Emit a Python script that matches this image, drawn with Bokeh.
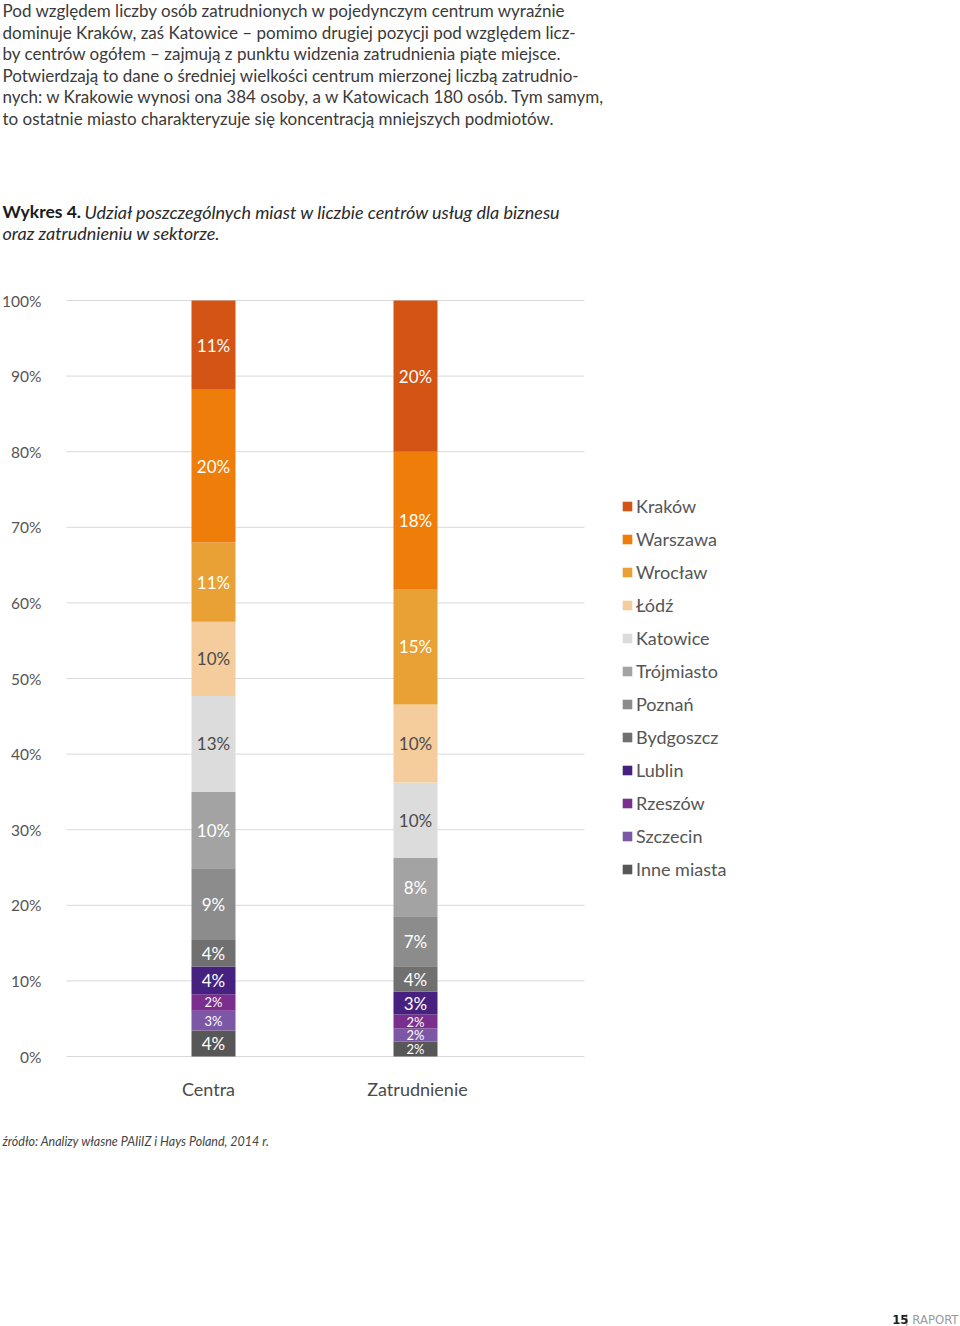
from bokeh.plotting import figure
from bokeh.models import ColumnDataSource, Range1d, Legend, LegendItem, Label
from bokeh.core.properties import value
from bokeh.embed import file_html
from bokeh.resources import INLINE

# ---------------- data ----------------
categories = ["Centra", "Zatrudnienie"]
cities = ["Inne miasta", "Szczecin", "Rzeszów", "Lublin", "Bydgoszcz", "Poznań",
          "Trójmiasto", "Katowice", "Łódź", "Wrocław", "Warszawa", "Kraków"]
centra = [3.45, 2.6, 2.2, 3.65, 3.5, 9.5, 10.1, 12.7, 9.8, 10.5, 20.2, 11.8]
zatrudnienie = [2.0, 1.7, 1.85, 3.0, 3.4, 6.6, 7.7, 10.0, 10.3, 15.3, 18.15, 20.0]
centra_labels = ["4%", "3%", "2%", "4%", "4%", "9%", "10%", "13%", "10%", "11%", "20%", "11%"]
zatrudnienie_labels = ["2%", "2%", "2%", "3%", "4%", "7%", "8%", "10%", "10%", "15%", "18%", "20%"]
colors = ["#575757", "#7b57a5", "#7a2e8e", "#46217f", "#707070", "#8c8c8c",
          "#a3a3a3", "#dcdcdc", "#f5cd9c", "#e9a135", "#ee7d0a", "#d35415"]
y_ticks = [0, 10, 20, 30, 40, 50, 60, 70, 80, 90, 100]
y_tick_labels = ["0%", "10%", "20%", "30%", "40%", "50%", "60%", "70%", "80%", "90%", "100%"]

paragraph = [
    "Pod względem liczby osób zatrudnionych w pojedynczym centrum wyraźnie",
    "dominuje Kraków, zaś Katowice – pomimo drugiej pozycji pod względem licz-",
    "by centrów ogółem – zajmują z punktu widzenia zatrudnienia piąte miejsce.",
    "Potwierdzają to dane o średniej wielkości centrum mierzonej liczbą zatrudnio-",
    "nych: w Krakowie wynosi ona 384 osoby, a w Katowicach 180 osób. Tym samym,",
    "to ostatnie miasto charakteryzuje się koncentracją mniejszych podmiotów.",
]
title_bold = "Wykres 4."
title_italic_1 = "Udział poszczególnych miast w liczbie centrów usług dla biznesu"
title_italic_2 = "oraz zatrudnieniu w sektorze."
source_text = "źródło: Analizy własne PAIiIZ i Hays Poland, 2014 r."

FONT = "Lato"
W, H = 960, 1326
# layout: page pixel positions of the chart geometry
BAR1_PX, BAR_STEP_PX = 213, 202        # centre of first bar, distance between bars
Y0_PX, Y100_PX = 1056, 300             # page y of 0% and 100%
GRID_LEFT_PX, GRID_RIGHT_PX = 66, 584

ppu_y = (Y0_PX - Y100_PX) / 100.0
x_start = 1 - BAR1_PX / BAR_STEP_PX
x_end = x_start + W / BAR_STEP_PX
y_start = -(H - Y0_PX) / ppu_y
y_end = 100 + Y100_PX / ppu_y


def px_x(px):
    return x_start + px / BAR_STEP_PX


def px_y(py):
    return (Y0_PX - py) / ppu_y


p = figure(width=W, height=H, output_backend="svg", toolbar_location=None,
           x_range=Range1d(x_start, x_end), y_range=Range1d(y_start, y_end),
           min_border=0, min_border_left=0, min_border_right=0,
           min_border_top=0, min_border_bottom=0)
p.outline_line_color = None
p.background_fill_color = "white"
p.border_fill_color = "white"
p.axis.visible = False
p.grid.visible = False

# gridlines
p.segment(x0=[px_x(GRID_LEFT_PX)] * len(y_ticks), x1=[px_x(GRID_RIGHT_PX)] * len(y_ticks),
          y0=y_ticks, y1=y_ticks, line_color="#d9d9d9", line_width=1)

xs = list(range(1, len(categories) + 1))
data = {"x": xs}
for i, c in enumerate(cities):
    data[c] = [centra[i], zatrudnienie[i]]
src = ColumnDataSource(data)
rs = p.vbar_stack(cities, x="x", width=44 / BAR_STEP_PX, fill_color=colors,
                  line_color=None, source=src)


def is_light(hexcol):
    r, g, b = int(hexcol[1:3], 16), int(hexcol[3:5], 16), int(hexcol[5:7], 16)
    return 0.299 * r + 0.587 * g + 0.114 * b > 190


lx, ly, lt, lc, ls = [], [], [], [], []
for xi, vals, labs in zip(xs, [centra, zatrudnienie], [centra_labels, zatrudnienie_labels]):
    bottom = 0.0
    for v, lab, col in zip(vals, labs, colors):
        lx.append(xi)
        ly.append(bottom + v / 2)
        lt.append(lab)
        lc.append("#4a4a4a" if is_light(col) else "#ffffff")
        ls.append("13px" if v < 2.9 else "17px")
        bottom += v
p.text(x="x", y="y", text="text", text_color="color", text_font_size="size",
       text_align="center", text_baseline="middle", text_font=value(FONT),
       source=ColumnDataSource(dict(x=lx, y=ly, text=lt, color=lc, size=ls)))

# y tick labels
p.text(x=[px_x(41)] * len(y_ticks), y=y_ticks, text=y_tick_labels, text_align="right",
       text_baseline="middle", text_font=value(FONT), text_font_size="15.5px",
       text_color="#555555")
# category labels
p.text(x=[1 + (208 - BAR1_PX) / BAR_STEP_PX, 2 + (417 - BAR1_PX - BAR_STEP_PX) / BAR_STEP_PX],
       y=[px_y(1088)] * 2, text=categories, text_align="center", text_baseline="middle",
       text_font=value(FONT), text_font_size="18px", text_color="#4a4a4a")

# legend
items = [LegendItem(label=c, renderers=[r]) for c, r in zip(cities, rs)][::-1]
leg = Legend(items=items, location=(621, H - 880), orientation="vertical",
             glyph_width=12, glyph_height=12, label_standoff=3, spacing=11,
             label_height=20, padding=0, margin=0, border_line_alpha=0,
             background_fill_alpha=0, label_text_font=FONT,
             label_text_font_size="18px", label_text_color="#555555")
p.add_layout(leg)


def add_text(text, X, Y, size, color, style="normal", align="left", font=FONT):
    p.add_layout(Label(x=X, y=H - Y, x_units="screen", y_units="screen",
                       text=text, text_font=font, text_font_size=size, text_color=color,
                       text_font_style=style, text_align=align, text_baseline="middle"))


for i, line in enumerate(paragraph):
    add_text(line, 2, 10 + 21.6 * i, "17px", "#3a3a3a")

add_text(title_bold, 2, 211, "17.5px", "#1a1a1a", "bold")
add_text(title_italic_1, 84, 211, "18px", "#2a2a2a", "italic")
add_text(title_italic_2, 2, 232, "18px", "#2a2a2a", "italic")
add_text(source_text, 2, 1141, "12.5px", "#444444", "italic")
add_text("| RAPORT", 958, 1319, "13px", "#9a9a9a", "normal", "right",
         "'Liberation Sans Narrow', 'DejaVu Sans Condensed', sans-serif")
add_text("15", 908, 1319, "13px", "#222222", "bold", "right",
         "'Liberation Sans Narrow', 'DejaVu Sans Condensed', sans-serif")

open("out.html", "w").write(file_html(p, INLINE))
